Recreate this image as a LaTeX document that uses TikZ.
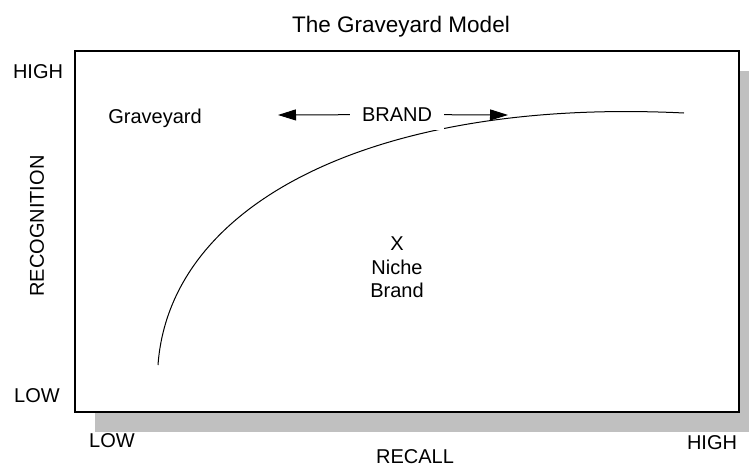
\documentclass[tikz,border=0pt]{standalone}
\usepackage{fontspec}
\setmainfont{Liberation Sans}
\usetikzlibrary{arrows.meta}
\definecolor{shadowgray}{RGB}{192,192,192}

\begin{document}
\begin{tikzpicture}[x=1pt,y=-1pt,
    lbl/.style={anchor=base,inner sep=0pt,font=\fontsize{20}{23.5}\selectfont},
    brandarrow/.style={-{Triangle[length=18pt,width=11pt]},line width=1pt}]
    \useasboundingbox (0,0) rectangle (749,466);
    % frame with its shadow
    \fill[shadowgray] (95,71) rectangle (749,432);
    \draw[fill=white,line width=1.3pt] (75,51) rectangle (739,412);
    % curve
    \draw[line width=1pt] (158,365) .. controls (170,200) and (380,98) .. (684,113);
    % texts
    \node[lbl,font=\fontsize{22.5}{27}\selectfont] (title) at (401,32) {The Graveyard Model};
    \node[lbl] (yhigh) at (38,78) {HIGH};
    \node[lbl] (ylow) at (37,402) {LOW};
    \node[lbl,anchor=center,rotate=90] (recog) at (37,226) {RECOGNITION};
    \node[lbl] (xlow) at (112,447) {LOW};
    \node[lbl] (xhigh) at (712,449) {HIGH};
    \node[lbl] (recall) at (415,463) {RECALL};
    \node[lbl] (grave) at (155,123) {Graveyard};
    \node[lbl,align=center,anchor=north] (niche) at (397,237) {X\\Niche\\Brand};
    \node[font=\fontsize{20}{24}\selectfont,fill=white,inner xsep=12pt,inner ysep=9pt] (brand) at (397,114.5) {BRAND};
    \coordinate (lefttip) at (278,115);
    \coordinate (righttip) at (508,115);
    \draw[brandarrow] (brand) -- (lefttip);
    \draw[brandarrow] (brand) -- (righttip);
\end{tikzpicture}
\end{document}
